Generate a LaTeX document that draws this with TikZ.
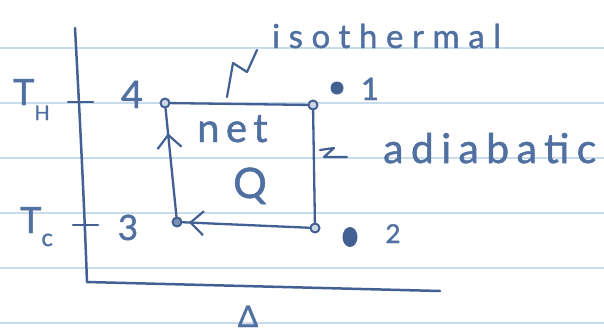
\documentclass[tikz,border=0pt]{standalone}
\usepackage{fontspec}
\newfontfamily\hand[LetterSpace=16,FakeBold=1.2]{Lato}
\newfontfamily\handA[LetterSpace=18,FakeBold=1.2]{Lato}
\newfontfamily\handB[LetterSpace=26,FakeBold=1.2]{Lato}
\usetikzlibrary{arrows.meta,decorations.markings,shapes.geometric}
\definecolor{ink}{RGB}{66,96,146}
\definecolor{inktext}{RGB}{80,112,162}
\definecolor{rulecol}{RGB}{200,220,235}
\begin{document}
\begin{tikzpicture}[x=1pt,y=-1pt,line cap=round,line join=round,
  axis/.style={draw=ink,line width=2.5pt},
  cycleline/.style={draw=ink,line width=2.3pt},
  statept/.style={circle,draw=ink,line width=2pt,fill=ink!25,minimum size=9pt,inner sep=0pt},
  blob/.style={circle,fill=ink,inner sep=0pt,minimum size=13pt},
  hand/.style={text=inktext,inner sep=0pt},
  pointer/.style={draw=ink,line width=2.2pt},
  barbtip/.style={postaction={decorate},decoration={markings,
     mark=at position #1 with {\arrow{Straight Barb[length=13pt,width=24pt,line width=2.2pt]}}}}]
\useasboundingbox (0,0) rectangle (604,333);
\clip (0,0) rectangle (604,333);
\fill[white] (0,0) rectangle (604,333);
% ruled paper
\foreach \y in {48,103,158,213,268,323}
  \draw[rulecol,line width=1.5pt] (0,\y) -- (604,\y);
% axes
\coordinate (ytop) at (75,28);
\coordinate (origin) at (87,282);
\coordinate (xend) at (440,291);
\draw[axis] (ytop) .. controls (80,120) and (84,200) .. (origin) -- (xend);
% ticks
\coordinate (thA) at (68,102); \coordinate (thB) at (93,102);
\coordinate (tcA) at (73,225); \coordinate (tcB) at (98,225);
\draw[axis] (thA) -- (thB);
\draw[axis] (tcA) -- (tcB);
% states
\node[statept] (p4) at (165,103) {};
\node[statept] (p1) at (313,105) {};
\node[statept] (p2) at (315,228) {};
\node[statept,fill=ink!70] (p3) at (177,222) {};
\draw[cycleline] (p4) -- (p1);
\draw[cycleline] (p1) -- (p2);
\draw[cycleline,barbtip=0.95] (p2) -- (p3);
\draw[cycleline,barbtip=0.77] (p3) -- (p4);
% labels
\node[hand,anchor=base west,font={\hand\fontsize{36}{40}\selectfont}] (TH) at (13,105)
  {T\raisebox{-15pt}{\fontsize{20}{22}\selectfont H}};
\node[hand,anchor=base west,font={\hand\fontsize{36}{40}\selectfont}] (TC) at (20,233)
  {T\raisebox{-13pt}{\fontsize{24}{26}\selectfont c}};
\node[hand,anchor=base,font={\hand\fontsize{38}{40}\selectfont}] (l4) at (132,108) {4};
\node[hand,anchor=base,font={\hand\fontsize{35}{40}\selectfont}] (l3) at (128,240) {3};
\node[hand,anchor=base,font={\hand\fontsize{31}{40}\selectfont}] (l1) at (370,100) {1};
\node[hand,anchor=base,font={\hand\fontsize{26}{30}\selectfont}] (l2) at (393,243) {2};
\node[blob] (b1) at (337,88) {};
\node[blob,ellipse,minimum width=15pt,minimum height=20pt] (b2) at (350,237) {};
\node[hand,anchor=base west,font={\hand\fontsize{40}{44}\selectfont}] (net) at (197,142) {net};
\node[hand,anchor=base,font={\hand\fontsize{42}{44}\selectfont}] (Q) at (250,198) {Q};
\node[hand,anchor=base west,font={\handB\fontsize{33}{36}\selectfont}] (iso) at (272,48) {isothermal};
\node[hand,anchor=base west,font={\handA\fontsize{41}{44}\selectfont}] (adia) at (383,163) {adiabatic};
\node[hand,anchor=base,font={\hand\fontsize{30}{34}\selectfont}] (S) at (248,327) {Δ};
% pointer squiggles
\coordinate (nA) at (227,97); \coordinate (nB) at (233,63);
\coordinate (nC) at (247,72); \coordinate (nD) at (257,50);
\draw[pointer] (nA) -- (nB) -- (nC) -- (nD);
\coordinate (zA) at (320,150); \coordinate (zB) at (334,148);
\coordinate (zC) at (324,157); \coordinate (zD) at (347,157);
\draw[pointer] (zA) -- (zB) -- (zC) -- (zD);
\end{tikzpicture}
\end{document}
